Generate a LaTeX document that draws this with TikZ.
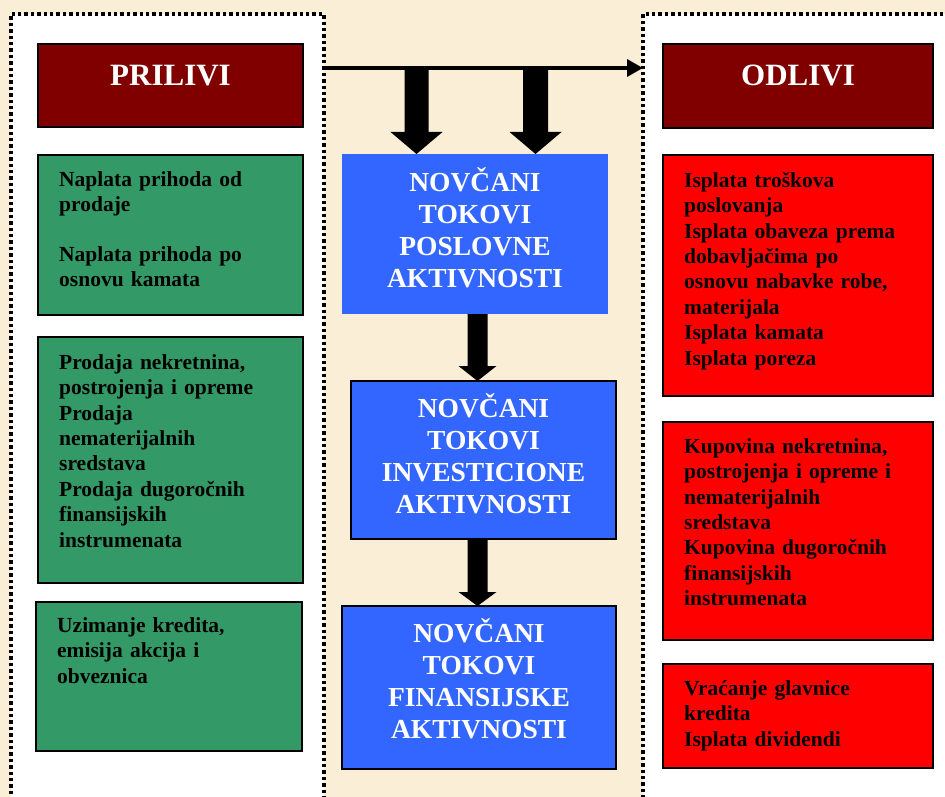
\documentclass[tikz,border=0pt]{standalone}
\usepackage{fontspec}
\setmainfont{Liberation Serif}
\usetikzlibrary{calc,arrows.meta}

\definecolor{parchment}{RGB}{250,238,214}
\definecolor{headred}{RGB}{128,0,0}
\definecolor{inflowgreen}{RGB}{51,153,102}
\definecolor{outflowred}{RGB}{255,0,0}
\definecolor{flowblue}{RGB}{51,102,255}

% invisible strut that fixes the first baseline below a node's top edge
\newcommand\leadin[1]{\rule{0pt}{#1pt}}

% downward block arrow: #1 start, #2 tip, #3 shaft half width,
% #4 head half width, #5 head length
\newcommand\fatarrow[5]{%
  \fill[blockarrow] ($(#1)+(-#3,0)$) -- ($(#2)+(-#3,-#5)$) -- ($(#2)+(-#4,-#5)$)
    -- (#2) -- ($(#2)+(#4,-#5)$) -- ($(#2)+(#3,-#5)$) -- ($(#1)+(#3,0)$) -- cycle;}

\tikzset{
  panel/.style={draw=black, fill=white, line width=3.4pt,
    dash pattern=on 3.4pt off 3pt, anchor=north west, inner sep=0pt, outer sep=0pt},
  boxbase/.style={anchor=north west, inner sep=0pt, outer sep=0pt, line width=1.6pt},
  headbox/.style={boxbase, draw=black, fill=headred},
  inbox/.style={boxbase, draw=black, fill=inflowgreen},
  outbox/.style={boxbase, draw=black, fill=outflowred},
  flowbox/.style={boxbase, fill=flowblue},
  framedflowbox/.style={flowbox, draw=black},
  headtext/.style={anchor=base, inner sep=0pt, text=white,
    font=\bfseries\fontsize{31}{31}\selectfont},
  listtext/.style={anchor=north west, inner sep=0pt, text width=250pt, align=left,
    font=\bfseries\fontsize{21.5}{25.4}\selectfont},
  flowtext/.style={anchor=north, inner sep=0pt, text width=270pt, align=center,
    text=white, font=\bfseries\fontsize{27.5}{32}\selectfont},
  blockarrow/.style={fill=black},
  flowline/.style={line width=3.5pt, -{Triangle[length=16pt,width=17pt]}},
}

\begin{document}
\begin{tikzpicture}[x=1pt,y=-1pt]
\useasboundingbox (0,0) rectangle (945,797);
\clip (0,0) rectangle (945,797);
\fill[parchment] (0,0) rectangle (945,797);

% inflow and outflow panels
\node[panel, minimum width=313pt, minimum height=850pt] (inpanel) at (11,14) {};
\node[panel, minimum width=330pt, minimum height=850pt] (outpanel) at (643,14) {};

% headers
\node[headbox, minimum width=265pt, minimum height=83pt] (pr) at (38,44) {};
\node[headtext] (prt) at (170.5,86) {PRILIVI};
\node[headbox, minimum width=270pt, minimum height=84pt] (od) at (663,44) {};
\node[headtext] (odt) at (798,86) {ODLIVI};

% inflows
\node[inbox, minimum width=265pt, minimum height=160pt] (g1) at (38,155) {};
\node[listtext] (g1t) at (59,164) {\leadin{22}Naplata prihoda od\\prodaje\\[24pt]Naplata prihoda po\\osnovu kamata};
\node[inbox, minimum width=265pt, minimum height=246pt] (g2) at (38,337) {};
\node[listtext] (g2t) at (59,347) {\leadin{22}Prodaja nekretnina,\\postrojenja i opreme\\Prodaja\\nematerijalnih\\sredstava\\Prodaja dugoročnih\\finansijskih\\instrumenata};
\node[inbox, minimum width=266pt, minimum height=149pt] (g3) at (36,602) {};
\node[listtext] (g3t) at (57,610) {\leadin{22}Uzimanje kredita,\\emisija akcija i\\obveznica};

% outflows
\node[outbox, minimum width=270pt, minimum height=241pt] (r1) at (663,155) {};
\node[listtext] (r1t) at (684,165) {\leadin{22}Isplata troškova\\poslovanja\\Isplata obaveza prema\\dobavljačima po\\osnovu nabavke robe,\\materijala\\Isplata kamata\\Isplata poreza};
\node[outbox, minimum width=270pt, minimum height=218pt] (r2) at (663,422) {};
\node[listtext] (r2t) at (684,431) {\leadin{22}Kupovina nekretnina,\\postrojenja i opreme i\\nematerijalnih\\sredstava\\Kupovina dugoročnih\\finansijskih\\instrumenata};
\node[outbox, minimum width=270pt, minimum height=104pt] (r3) at (663,664) {};
\node[listtext] (r3t) at (684,673) {\leadin{22}Vraćanje glavnice\\kredita\\Isplata dividendi};

% cash flow activities
\node[flowbox, minimum width=266pt, minimum height=160pt] (b1) at (342,154) {};
\node[flowtext] (b1t) at (475,161) {\leadin{30}NOVČANI\\TOKOVI\\POSLOVNE\\AKTIVNOSTI};
\node[framedflowbox, minimum width=265pt, minimum height=158pt] (b2) at (351,381) {};
\node[flowtext] (b2t) at (483.5,387) {\leadin{30}NOVČANI\\TOKOVI\\INVESTICIONE\\AKTIVNOSTI};
\node[framedflowbox, minimum width=274pt, minimum height=163pt] (b3) at (342,606) {};
\node[flowtext] (b3t) at (479,612) {\leadin{30}NOVČANI\\TOKOVI\\FINANSIJSKE\\AKTIVNOSTI};

% connectors
\coordinate (hs) at (324,68);
\coordinate (he) at (643,68);
\draw[flowline] (hs) -- (he);
\coordinate (a1) at (416.5,68);
\coordinate (a2) at (535.5,68);
\coordinate (a3) at (477.5,0);
\fatarrow{a1}{b1.north -| a1}{12}{26}{22}
\fatarrow{a2}{b1.north -| a2}{12.5}{26}{22}
\fatarrow{b1.south -| a3}{b2.north -| a3}{10}{19}{15}
\fatarrow{b2.south -| a3}{b3.north -| a3}{10}{19}{14}
\end{tikzpicture}
\end{document}
